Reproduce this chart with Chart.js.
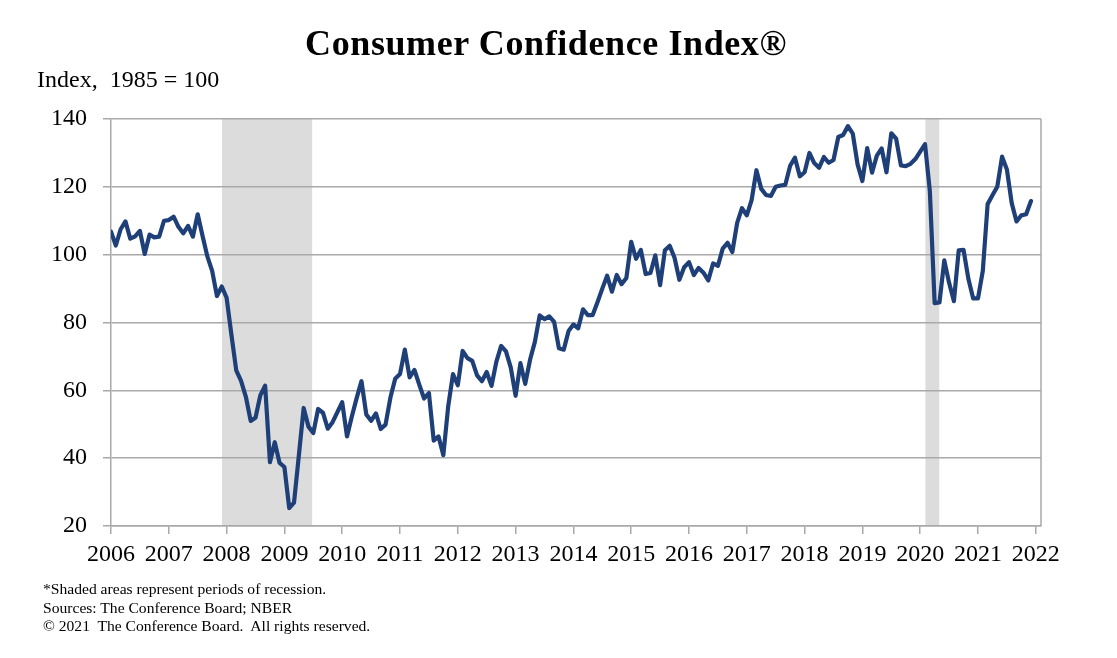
<!DOCTYPE html>
<html>
<head>
<meta charset="utf-8">
<script src="https://cdn.jsdelivr.net/npm/chart.js@4.4.1/dist/chart.umd.min.js"></script>
<style>
  html, body { margin: 0; padding: 0; background: #ffffff; }
  #wrap { position: relative; width: 1117px; height: 658px; overflow: hidden; background: #fff; }
  #c { position: absolute; left: 0; top: 0; }
  .txt { position: absolute; font-family: "Liberation Serif", "Times New Roman", serif; color: #000; white-space: pre; line-height: 1; }
  #title { left: 0; width: 1092px; text-align: center; top: 25px; font-size: 36px; font-weight: bold; letter-spacing: 0.6px; }
  #sub { left: 37px; top: 67px; font-size: 24px; }
  #notes { left: 43px; top: 580px; font-size: 15.6px; line-height: 18.5px; }
</style>
</head>
<body>
<div id="wrap">
  <canvas id="c" width="1117" height="658"></canvas>
  <div class="txt" id="title">Consumer Confidence Index®</div>
  <div class="txt" id="sub">Index,  1985 = 100</div>
  <div class="txt" id="notes">*Shaded areas represent periods of recession.
Sources: The Conference Board; NBER
© 2021  The Conference Board.  All rights reserved.</div>
</div>
<script>
// ---- Data (monthly, Jan 2006 – Dec 2021) ----
const startYear = 2006;
const cci2006 = [106.8, 102.7, 107.5, 109.8, 104.7, 105.4, 107.0, 100.2, 105.9, 105.1, 105.3, 110.0];
const cci2007 = [110.2, 111.2, 108.2, 106.3, 108.5, 105.3, 111.9, 105.6, 99.5, 95.2, 87.8, 90.6];
const cci2008 = [87.3, 76.4, 65.9, 62.8, 58.1, 51.0, 51.9, 58.5, 61.4, 38.8, 44.7, 38.6];
const cci2009 = [37.4, 25.3, 26.9, 40.8, 54.8, 49.3, 47.4, 54.5, 53.4, 48.7, 50.6, 53.6];
const cci2010 = [56.5, 46.4, 52.3, 57.7, 62.7, 52.9, 51.0, 53.2, 48.6, 49.9, 57.8, 63.4];
const cci2011 = [64.8, 72.0, 63.8, 66.0, 61.7, 57.6, 59.2, 45.2, 46.4, 40.9, 55.2, 64.8];
const cci2012 = [61.5, 71.6, 69.5, 68.7, 64.4, 62.7, 65.4, 61.3, 68.4, 73.1, 71.5, 66.7];
const cci2013 = [58.4, 68.0, 61.9, 69.0, 74.3, 82.1, 81.0, 81.8, 80.2, 72.4, 72.0, 77.5];
const cci2014 = [79.4, 78.3, 83.9, 82.2, 82.2, 86.0, 90.0, 93.8, 89.1, 94.0, 91.3, 93.1];
const cci2015 = [103.8, 98.8, 101.4, 94.3, 94.6, 99.8, 91.0, 101.3, 102.6, 99.1, 92.6, 96.3];
const cci2016 = [97.8, 94.0, 96.1, 94.7, 92.4, 97.4, 96.7, 101.8, 103.5, 100.8, 109.4, 113.7];
const cci2017 = [111.6, 116.1, 124.9, 119.4, 117.6, 117.3, 120.0, 120.4, 120.6, 126.2, 128.6, 123.1];
const cci2018 = [124.3, 130.0, 127.0, 125.6, 128.8, 127.1, 127.9, 134.7, 135.3, 137.9, 135.7, 126.6];
const cci2019 = [121.7, 131.4, 124.2, 129.2, 131.3, 124.3, 135.8, 134.2, 126.3, 126.1, 126.8, 128.2];
const cci2020 = [130.4, 132.6, 118.8, 85.7, 85.9, 98.3, 91.7, 86.3, 101.3, 101.4, 92.9, 87.1];
const cci2021 = [87.1, 95.2, 114.9, 117.5, 120.0, 128.9, 125.1, 115.2, 109.8, 111.6, 111.9, 115.8];

const yearTicks = [2006, 2007, 2008, 2009, 2010, 2011, 2012, 2013, 2014, 2015, 2016, 2017, 2018, 2019, 2020, 2021, 2022];
const yTicks = [20, 40, 60, 80, 100, 120, 140];
const recessionStarts = [2007.92, 2020.09];
const recessionEnds = [2009.48, 2020.33];

const cciValues = [].concat(cci2006, cci2007, cci2008, cci2009, cci2010, cci2011, cci2012, cci2013,
  cci2014, cci2015, cci2016, cci2017, cci2018, cci2019, cci2020, cci2021);
const points = cciValues.map((v, i) => ({ x: startYear + i / 12, y: v }));

const GRID = '#a9a9a9';

const recessionPlugin = {
  id: 'recessions',
  beforeDraw(chart) {
    const { ctx, chartArea, scales } = chart;
    ctx.save();
    ctx.fillStyle = '#dcdcdc';
    for (let k = 0; k < recessionStarts.length; k++) {
      const x1 = scales.x.getPixelForValue(recessionStarts[k]);
      const x2 = scales.x.getPixelForValue(recessionEnds[k]);
      ctx.fillRect(x1, chartArea.top, x2 - x1, chartArea.bottom - chartArea.top);
    }
    ctx.restore();
  },
  afterDraw(chart) {
    const { ctx, chartArea } = chart;
    ctx.save();
    ctx.strokeStyle = GRID;
    ctx.lineWidth = 1.5;
    ctx.beginPath();
    ctx.moveTo(chartArea.right, chartArea.top);
    ctx.lineTo(chartArea.right, chartArea.bottom);
    ctx.stroke();
    ctx.restore();
  }
};

new Chart(document.getElementById('c'), {
  type: 'line',
  data: {
    datasets: [{
      data: points,
      borderColor: '#1f3f78',
      borderWidth: 4.2,
      pointRadius: 0,
      tension: 0,
      borderJoinStyle: 'round',
      borderCapStyle: 'round',
      fill: false
    }]
  },
  options: {
    responsive: false,
    animation: false,
    devicePixelRatio: 1,
    layout: { padding: { top: 119, right: 76, bottom: 0, left: 0 } },
    plugins: { legend: { display: false }, tooltip: { enabled: false }, title: { display: false } },
    scales: {
      x: {
        type: 'linear',
        min: yearTicks[0],
        max: 2022.09,
        afterBuildTicks: s => { s.ticks = yearTicks.map(v => ({ value: v })); },
        afterFit: s => { s.height = 132; },
        grid: { drawOnChartArea: false, drawTicks: true, tickLength: 8, color: GRID, lineWidth: 1.5 },
        border: { display: true, color: GRID, width: 1.5 },
        ticks: {
          autoSkip: false,
          maxRotation: 0,
          padding: 6,
          color: '#000',
          font: { family: '"Liberation Serif", "Times New Roman", serif', size: 24 },
          callback: v => String(v)
        }
      },
      y: {
        min: yTicks[0],
        max: yTicks[yTicks.length - 1],
        afterBuildTicks: s => { s.ticks = yTicks.map(v => ({ value: v })); },
        afterFit: s => { s.width = 111; },
        grid: { drawOnChartArea: true, drawTicks: true, tickLength: 8, color: GRID, lineWidth: 1.5 },
        border: { display: true, color: GRID, width: 1.5 },
        ticks: {
          padding: 16,
          color: '#000',
          font: { family: '"Liberation Serif", "Times New Roman", serif', size: 24 },
          callback: v => String(v)
        }
      }
    }
  },
  plugins: [recessionPlugin]
});
</script>
</body>
</html>
